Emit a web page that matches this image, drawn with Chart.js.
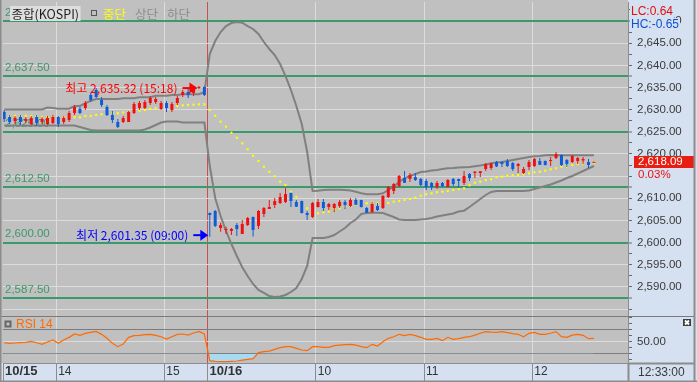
<!DOCTYPE html>
<html>
<head>
<meta charset="utf-8">
<script src="https://cdn.jsdelivr.net/npm/chart.js@4.4.1/dist/chart.umd.min.js"></script>
<style>
  html, body { margin: 0; padding: 0; background: #d5e1f0; }
  #box { width: 697px; height: 382px; }
</style>
</head>
<body>
<div id="box"><canvas id="hts" width="697" height="382"></canvas></div>
<script>
// 3분봉: 10/15 13:30~15:21 (38개), 10/16 09:00~12:33 (72개)
const open = [
  2629.47, 2628.34, 2627.44, 2628.34, 2627.44, 2626.76, 2628.34, 2627.22, 2626.76, 2626.99,
  2628.34, 2627.22, 2627.67, 2629.25, 2630.15, 2630.37, 2633.31, 2634.44, 2632.18, 2630.60,
  2628.80, 2627.22, 2627.22, 2627.22, 2629.25, 2630.37, 2630.37, 2631.50, 2631.73, 2630.15,
  2631.50, 2629.92, 2631.50, 2633.31, 2633.99, 2633.76, 2634.89, 2635.11,
  2606.69, 2607.14, 2603.30, 2602.85, 2602.63, 2603.98, 2601.95, 2603.98, 2605.79, 2603.76,
  2606.46, 2607.59, 2608.49, 2608.94, 2609.17, 2611.20, 2609.17, 2609.39, 2606.69, 2605.79,
  2608.04, 2609.17, 2608.04, 2607.82, 2608.27, 2609.17, 2608.27, 2609.62, 2609.62, 2607.82,
  2606.91, 2608.27, 2607.82, 2610.30, 2611.65, 2612.78, 2614.58, 2614.36, 2614.81, 2614.36,
  2613.91, 2613.46, 2612.55, 2613.46, 2612.55, 2614.36, 2614.36, 2613.46, 2615.49, 2615.71,
  2615.71, 2616.61, 2616.84, 2618.19, 2618.19, 2618.42, 2617.97, 2617.29, 2615.71, 2617.06,
  2617.29, 2618.42, 2618.42, 2618.42, 2619.10, 2619.77, 2618.64, 2618.19, 2618.42, 2618.55,
  2618.19, 2618.00
];
const high = [
  2629.92, 2628.80, 2628.57, 2628.80, 2628.34, 2628.57, 2628.80, 2628.34, 2628.57, 2628.80,
  2628.57, 2628.57, 2629.70, 2631.05, 2630.60, 2631.95, 2633.76, 2634.89, 2632.86, 2631.05,
  2629.70, 2627.89, 2628.57, 2629.70, 2631.73, 2631.95, 2632.18, 2633.08, 2632.86, 2631.95,
  2631.95, 2631.73, 2633.08, 2634.44, 2634.66, 2635.11, 2635.32, 2635.20,
  2606.80, 2607.36, 2604.50, 2603.60, 2603.30, 2604.43, 2605.11, 2605.79, 2605.90, 2607.36,
  2608.04, 2609.62, 2610.07, 2611.20, 2612.33, 2611.30, 2609.62, 2609.50, 2607.14, 2609.17,
  2609.85, 2609.85, 2608.94, 2608.94, 2609.62, 2609.62, 2610.07, 2610.07, 2609.70, 2608.04,
  2609.17, 2608.94, 2610.75, 2612.78, 2613.46, 2615.26, 2616.16, 2615.71, 2615.71, 2614.58,
  2614.36, 2613.68, 2613.91, 2613.68, 2614.36, 2614.58, 2614.40, 2616.16, 2615.71, 2616.16,
  2616.16, 2617.97, 2617.97, 2618.42, 2618.42, 2618.87, 2618.19, 2617.97, 2617.06, 2618.64,
  2619.10, 2619.10, 2618.55, 2619.32, 2620.45, 2619.90, 2618.87, 2619.77, 2619.32, 2619.32,
  2618.87, 2618.09
];
const low = [
  2627.22, 2626.76, 2626.76, 2626.54, 2626.99, 2626.54, 2626.31, 2626.76, 2626.54, 2626.76,
  2626.09, 2626.76, 2627.22, 2628.80, 2629.02, 2629.92, 2631.73, 2632.63, 2630.60, 2628.57,
  2626.99, 2625.86, 2626.99, 2627.22, 2629.02, 2629.92, 2630.15, 2631.05, 2631.28, 2629.92,
  2629.47, 2629.47, 2631.05, 2632.86, 2632.63, 2633.08, 2634.66, 2633.08,
  2601.35, 2603.53, 2602.47, 2601.95, 2601.73, 2601.50, 2601.95, 2603.76, 2601.40, 2603.08,
  2605.79, 2607.59, 2607.82, 2608.72, 2608.94, 2608.04, 2608.04, 2606.60, 2605.11, 2605.56,
  2607.90, 2607.14, 2607.36, 2606.91, 2607.82, 2607.59, 2608.04, 2608.49, 2607.90, 2606.69,
  2606.69, 2607.14, 2607.59, 2610.07, 2610.97, 2612.55, 2613.46, 2613.68, 2613.91, 2612.78,
  2611.88, 2611.88, 2612.10, 2612.55, 2612.50, 2612.78, 2612.33, 2613.00, 2613.91, 2614.58,
  2614.81, 2616.16, 2616.39, 2617.06, 2617.06, 2617.06, 2616.16, 2615.71, 2615.49, 2616.39,
  2617.06, 2617.52, 2617.40, 2617.29, 2618.87, 2617.29, 2617.06, 2617.97, 2617.74, 2617.74,
  2616.84, 2618.00
];
const close = [
  2627.89, 2627.22, 2628.12, 2627.22, 2627.89, 2628.12, 2626.99, 2627.89, 2628.12, 2628.34,
  2626.76, 2628.12, 2629.25, 2630.60, 2629.25, 2631.50, 2632.18, 2632.86, 2631.05, 2628.80,
  2627.67, 2626.09, 2628.12, 2629.47, 2631.28, 2631.50, 2631.73, 2632.63, 2632.41, 2631.50,
  2630.37, 2631.28, 2632.63, 2633.99, 2633.31, 2634.89, 2635.11, 2633.31,
  2606.24, 2603.76, 2603.98, 2603.08, 2603.08, 2603.08, 2604.21, 2605.56, 2602.85, 2607.14,
  2607.82, 2608.04, 2609.39, 2610.30, 2610.97, 2609.39, 2608.10, 2606.69, 2606.24, 2608.94,
  2609.17, 2607.82, 2608.72, 2608.72, 2609.17, 2608.49, 2609.62, 2608.55, 2608.04, 2606.75,
  2608.72, 2607.36, 2610.52, 2612.55, 2613.23, 2615.04, 2613.50, 2615.26, 2614.13, 2613.00,
  2612.55, 2612.55, 2613.46, 2612.78, 2614.13, 2613.23, 2613.91, 2615.04, 2614.58, 2616.00,
  2616.10, 2617.74, 2617.90, 2617.20, 2617.74, 2617.29, 2616.61, 2617.74, 2616.61, 2618.19,
  2618.87, 2617.55, 2617.52, 2618.64, 2620.00, 2617.52, 2617.74, 2619.55, 2619.10, 2618.87,
  2617.52, 2618.09
];

// 볼린저 밴드 (상단 / 중단 / 하단)
const bbUpper = [
  2630.04, 2630.04, 2630.04, 2630.04, 2630.04, 2630.04, 2630.04, 2630.04, 2630.49, 2630.38,
  2630.22, 2630.22, 2630.22, 2630.83, 2630.83, 2631.44, 2632.02, 2632.41, 2632.41, 2632.41,
  2632.41, 2632.41, 2632.56, 2632.56, 2632.56, 2632.79, 2632.79, 2632.79, 2633.15, 2633.15,
  2633.15, 2633.31, 2633.31, 2633.47, 2633.47, 2633.47, 2633.47, 2633.98,
  2642.56, 2645.49, 2647.52, 2648.87, 2649.55, 2649.78, 2649.62, 2648.87, 2648.20, 2647.07,
  2645.26, 2643.69, 2642.33, 2640.30, 2637.59, 2634.44, 2630.83, 2626.77, 2620.45, 2611.65,
  2611.72, 2611.88, 2611.94, 2611.94, 2611.94, 2611.88, 2611.76, 2611.49, 2611.13, 2610.91,
  2610.91, 2610.91, 2611.13, 2611.88, 2612.62, 2613.75, 2614.52, 2615.04, 2615.49, 2615.94,
  2616.05, 2616.28, 2616.39, 2616.61, 2616.77, 2616.84, 2616.95, 2617.00, 2617.06, 2617.22,
  2617.40, 2617.63, 2617.90, 2618.08, 2618.19, 2618.42, 2618.64, 2618.87, 2619.10, 2619.32,
  2619.48, 2619.55, 2619.71, 2619.77, 2619.71, 2619.71, 2619.71, 2619.71, 2619.71, 2619.71,
  2619.71, 2619.71
];
const bbMid = [
  2628.57, 2628.57, 2628.57, 2628.57, 2628.57, 2628.57, 2628.57, 2628.34, 2628.34, 2628.34,
  2628.34, 2628.34, 2628.57, 2628.28, 2628.28, 2628.57, 2628.57, 2628.80, 2628.95, 2629.18,
  2629.18, 2629.18, 2629.41, 2629.41, 2629.70, 2629.77, 2629.92, 2630.15, 2630.31, 2630.44,
  2630.67, 2630.76, 2630.83, 2630.98, 2631.05, 2631.12, 2631.21, 2631.21,
  2629.92, 2628.64, 2627.28, 2626.16, 2624.80, 2623.67, 2622.41, 2621.06, 2619.61, 2618.42,
  2617.13, 2616.00, 2614.97, 2613.75, 2613.00, 2611.49, 2610.36, 2609.24, 2607.75, 2606.80,
  2606.62, 2606.85, 2606.98, 2607.52, 2607.75, 2608.11, 2608.27, 2608.65, 2608.88, 2608.88,
  2609.01, 2608.88, 2609.01, 2608.94, 2609.24, 2609.39, 2609.62, 2609.85, 2610.14, 2610.59,
  2610.91, 2611.13, 2611.36, 2611.49, 2611.65, 2611.88, 2612.10, 2612.26, 2612.93, 2613.52,
  2613.75, 2614.13, 2614.29, 2614.74, 2614.88, 2615.10, 2615.19, 2615.26, 2615.42, 2615.64,
  2615.87, 2616.00, 2616.23, 2616.55, 2616.77, 2617.13, 2617.22, 2617.52, 2617.74, 2617.90,
  2617.90, 2618.04
];
const bbLower = [
  2626.43, 2626.43, 2626.43, 2626.43, 2626.43, 2626.43, 2626.43, 2626.43, 2626.43, 2626.43,
  2626.43, 2626.43, 2626.43, 2626.43, 2626.09, 2625.75, 2625.41, 2625.30, 2625.30, 2625.30,
  2625.30, 2625.30, 2625.30, 2625.30, 2625.30, 2625.30, 2625.52, 2625.98, 2626.54, 2627.10,
  2627.33, 2627.33, 2627.33, 2627.10, 2627.10, 2627.10, 2627.10, 2627.10,
  2617.29, 2610.07, 2606.01, 2602.63, 2599.69, 2596.99, 2594.46, 2592.47, 2590.67, 2589.32,
  2588.64, 2587.96, 2587.74, 2587.85, 2588.19, 2588.86, 2589.77, 2591.80, 2594.73, 2601.05,
  2601.05, 2601.05, 2601.27, 2601.72, 2602.52, 2603.30, 2604.43, 2605.22, 2606.46, 2606.69,
  2606.76, 2606.76, 2606.69, 2606.24, 2605.79, 2605.22, 2605.11, 2605.11, 2605.11, 2605.22,
  2605.33, 2605.56, 2605.90, 2606.12, 2606.35, 2606.58, 2607.03, 2607.21, 2608.04, 2608.94,
  2609.85, 2610.75, 2611.43, 2611.65, 2611.65, 2611.65, 2611.65, 2611.65, 2611.65, 2611.76,
  2612.10, 2612.44, 2612.78, 2613.12, 2613.57, 2614.02, 2614.58, 2615.04, 2615.60, 2616.16,
  2616.73, 2617.29
];

// RSI 14
const rsi = [
  48.3, 47.2, 47.8, 48.3, 48.9, 50.6, 48.3, 45.6, 49.4, 52.8,
  47.2, 52.8, 57.2, 62.8, 60.6, 63.9, 65.6, 67.2, 62.2, 55.6,
  47.2, 41.7, 46.1, 57.2, 60.0, 60.6, 61.7, 62.2, 60.6, 58.3,
  54.4, 58.3, 62.2, 62.8, 61.1, 64.4, 67.2, 62.8,
  18.3, 17.2, 16.7, 16.7, 17.2, 17.8, 19.4, 20.6, 21.7, 31.7,
  33.3, 34.4, 37.2, 40.0, 41.7, 41.7, 38.9, 36.1, 35.0, 41.7,
  41.7, 40.6, 40.6, 43.3, 44.4, 45.0, 45.6, 44.4, 41.7, 40.0,
  45.6, 42.8, 50.0, 55.6, 58.3, 62.3, 60.0, 62.3, 60.0, 57.3,
  54.0, 54.0, 55.6, 51.7, 57.3, 54.0, 55.0, 57.3, 58.3, 61.0,
  64.0, 66.7, 66.0, 65.6, 66.7, 65.0, 63.4, 62.3, 58.3, 64.0,
  65.6, 62.3, 62.3, 64.0, 66.7, 58.3, 57.3, 61.0, 62.3, 60.6,
  55.0, 55.6
];

// 시간축 눈금 (3분 슬롯 기준)
const timeTickSlots = [0.18, 10, 30, 38, 58, 78, 98];
const timeTickLabels = ['10/15', '14', '15', '10/16', '10', '11', '12'];
const boldTickLabels = ['10/15', '10/16'];
const greenLevels = [2587.5, 2600, 2612.5, 2625, 2637.5, 2650];
const rsiTicks = [20, 30, 40, 50, 60, 70, 80, 90];
const rsiGuides = [30, 70];
const lastTime = '12:33:00';
const changeRate = '0.03%';
const lcText = 'LC:0.64';
const hcText = 'HC:-0.65';

const BAR_OFFSET = 0.4;
const C = {
  plotBg: '#c0c0c0', panelBg: '#d5e1f0', grid: '#dcdcdc', green: '#3b9a6b',
  up: '#f01010', down: '#0f5bd8', band: '#808080', mid: '#ffff00',
  rsi: '#ff6a00', rsiFill: '#a8daf2', text: '#3a3a3a', frame: '#8c8c8c', dayLine: '#c85050'
};
const NUM_FONT = '"Liberation Sans", Arial, sans-serif';
const KR_FONT = '"Noto Sans CJK KR", "Noto Sans", sans-serif';

const fmt = v => v.toLocaleString('en-US', { minimumFractionDigits: 2, maximumFractionDigits: 2 });
const near = (v, list) => list.some(g => Math.abs(g - v) < 1e-6);
const isFive = v => Math.abs(v / 5 - Math.round(v / 5)) < 1e-6;

const xs = open.map((_, i) => i + BAR_OFFSET);
const colors = open.map((o, i) => close[i] >= o ? C.up : C.down);
const pts = arr => arr.map((v, i) => ({ x: xs[i], y: v }));

function text(ctx, s, x, y, color, font, align) {
  ctx.font = font;
  ctx.fillStyle = color;
  ctx.textAlign = align || 'left';
  ctx.textBaseline = 'middle';
  ctx.fillText(s, x, y);
}

function arrow(ctx, tip, y, color) {
  ctx.strokeStyle = color;
  ctx.fillStyle = color;
  ctx.lineWidth = 2;
  ctx.beginPath();
  ctx.moveTo(tip - 15, y);
  ctx.lineTo(tip - 6, y);
  ctx.stroke();
  ctx.beginPath();
  ctx.moveTo(tip - 8, y - 5.5);
  ctx.lineTo(tip, y);
  ctx.lineTo(tip - 8, y + 5.5);
  ctx.closePath();
  ctx.fill();
}

const htsFrame = {
  id: 'htsFrame',
  beforeDraw(chart) {
    const { ctx, chartArea: a, width, height } = chart;
    ctx.save();
    ctx.fillStyle = C.panelBg;
    ctx.fillRect(0, 0, width, height);
    ctx.fillStyle = C.plotBg;
    ctx.fillRect(0, 0, a.right, a.bottom);
    ctx.restore();
  },
  beforeDatasetsDraw(chart) {
    const { ctx, chartArea: a } = chart;
    const ys = chart.scales.y;
    ctx.save();
    // 패널 구분선
    ctx.strokeStyle = '#7a7a7a';
    ctx.lineWidth = 1;
    ctx.beginPath();
    ctx.moveTo(0, Math.round(ys.bottom) + 0.5);
    ctx.lineTo(694, Math.round(ys.bottom) + 0.5);
    ctx.stroke();
    // 왼쪽 녹색 기준선 값
    greenLevels.forEach(v => {
      text(ctx, fmt(v), a.left + 2, ys.getPixelForValue(v) - 8.5, C.green, '11.5px ' + NUM_FONT);
    });
    ctx.restore();
  },
  afterDraw(chart) {
    const { ctx } = chart;
    const xsc = chart.scales.x, ys = chart.scales.y, yr = chart.scales.yr;
    ctx.save();

    // 범례
    ctx.font = '12.5px ' + KR_FONT;
    const lw = ctx.measureText('종합(KOSPI)').width;
    ctx.fillStyle = '#dedede';
    ctx.fillRect(10, 6, lw + 3, 15);
    text(ctx, '종합(KOSPI)', 11.5, 14, '#1e1e1e', '12.5px ' + KR_FONT);
    ctx.strokeStyle = '#555';
    ctx.lineWidth = 1;
    ctx.strokeRect(91.5, 10.5, 5, 5);
    text(ctx, '중단', 103, 14, C.mid, '12.5px ' + KR_FONT);
    text(ctx, '상단', 135, 14, '#8c8c8c', '12.5px ' + KR_FONT);
    text(ctx, '하단', 167, 14, '#8c8c8c', '12.5px ' + KR_FONT);

    // 최고 / 최저 표시
    const hi = high.indexOf(Math.max(...high));
    const lo = low.indexOf(Math.min(...low));
    const hx = xsc.getPixelForValue(xs[hi]) - 1.5, hy = ys.getPixelForValue(high[hi]) + 2;
    arrow(ctx, hx, hy, '#ff0000');
    text(ctx, '최고 ' + fmt(high[hi]) + ' (15:18)', hx - 20, hy, '#ff0000', '12px ' + KR_FONT, 'right');
    const lx = xsc.getPixelForValue(xs[lo]) - 1.5, ly = ys.getPixelForValue(low[lo]) - 1.5;
    arrow(ctx, lx, ly, '#0000ff');
    text(ctx, '최저 ' + fmt(low[lo]) + ' (09:00)', lx - 20, ly, '#0000ff', '12px ' + KR_FONT, 'right');

    // 현재가 박스
    const last = close[close.length - 1];
    const cy = ys.getPixelForValue(last);
    ctx.fillStyle = '#e81e12';
    ctx.fillRect(634, Math.round(cy) - 6, 60, 12);
    text(ctx, fmt(last), 638, Math.round(cy), '#ffffff', '11.5px ' + NUM_FONT);
    ctx.fillStyle = C.panelBg;
    ctx.fillRect(635, Math.round(cy) + 6, 56, 13);
    text(ctx, changeRate, 638, Math.round(cy) + 12.5, '#f01010', '11.5px ' + NUM_FONT);

    // LC / HC
    ctx.font = '12px ' + NUM_FONT;
    ctx.fillStyle = C.panelBg;
    ctx.fillRect(630, 5, ctx.measureText(lcText).width + 2, 13);
    ctx.fillRect(630, 18, ctx.measureText(hcText).width + 2, 13);
    text(ctx, lcText, 631, 12, '#e01010', '12px ' + NUM_FONT);
    text(ctx, hcText, 631, 24.5, '#1050d0', '12px ' + NUM_FONT);

    // RSI 범례
    ctx.strokeStyle = '#666';
    ctx.strokeRect(5.5, 321.5, 5, 5);
    text(ctx, 'RSI 14', 16, 324.5, C.rsi, '12px ' + NUM_FONT);
    ctx.fillStyle = '#3c3c3c';
    ctx.fillRect(683, 319, 8, 7);
    ctx.strokeStyle = '#ffffff';
    ctx.beginPath();
    ctx.moveTo(685, 320.5); ctx.lineTo(689, 324.5);
    ctx.moveTo(689, 320.5); ctx.lineTo(685, 324.5);
    ctx.stroke();

    // 시간 박스, 테두리
    ctx.strokeStyle = C.frame;
    ctx.beginPath();
    ctx.moveTo(628.5, xsc.top); ctx.lineTo(628.5, 382);
    ctx.moveTo(694.5, 0); ctx.lineTo(694.5, 382);
    ctx.moveTo(0, 381.5); ctx.lineTo(697, 381.5);
    ctx.moveTo(628, xsc.top + 0.5); ctx.lineTo(694, xsc.top + 0.5);
    ctx.moveTo(0.5, 0); ctx.lineTo(0.5, 382);
    ctx.stroke();
    text(ctx, lastTime, 638, 372.5, C.text, '12px ' + NUM_FONT);
    ctx.restore();
  }
};

const ctx = document.getElementById('hts').getContext('2d');
const chart = new Chart(ctx, {
  type: 'line',
  data: {
    datasets: [
      {
        type: 'bar', label: 'wick', yAxisID: 'y', order: 1,
        data: open.map((_, i) => ({ x: xs[i], y: [low[i], high[i]] })),
        backgroundColor: colors, grouped: false, maxBarThickness: 1,
        minBarLength: 1, borderWidth: 0, inflateAmount: 0
      },
      {
        type: 'bar', label: 'body', yAxisID: 'y', order: 0,
        data: open.map((o, i) => ({ x: xs[i], y: [o, close[i]] })),
        backgroundColor: colors, grouped: false, maxBarThickness: 3,
        minBarLength: 1, borderWidth: 0, inflateAmount: 0
      },
      {
        label: '상단', yAxisID: 'y', order: 3, data: pts(bbUpper),
        borderColor: C.band, borderWidth: 2, pointRadius: 0, tension: 0
      },
      {
        label: '하단', yAxisID: 'y', order: 3, data: pts(bbLower),
        borderColor: C.band, borderWidth: 2, pointRadius: 0, tension: 0
      },
      {
        label: '중단', yAxisID: 'y', order: 2, data: pts(bbMid), showLine: false,
        pointStyle: 'rect', pointRadius: 1.5, backgroundColor: C.mid, borderWidth: 0
      },
      {
        label: 'RSI 14', yAxisID: 'yr', order: 4, data: pts(rsi),
        borderColor: C.rsi, borderWidth: 1.2, pointRadius: 0, tension: 0,
        fill: { target: { value: 30 }, above: 'rgba(0,0,0,0)', below: C.rsiFill }
      }
    ]
  },
  options: {
    responsive: false,
    animation: false,
    events: [],
    layout: { autoPadding: false, padding: { left: 3, top: 2, right: 0, bottom: 0 } },
    plugins: { legend: { display: false }, tooltip: { enabled: false } },
    scales: {
      x: {
        type: 'linear', position: 'bottom', min: 0.18, max: 115.7, offset: false,
        afterBuildTicks: s => { s.ticks = timeTickSlots.map(v => ({ value: v })); },
        afterFit: s => { s.height = 19; s.paddingLeft = 0; s.paddingRight = 0; },
        border: { display: true, color: C.frame },
        grid: {
          offset: false,
          color: c => c.index === 0 ? 'rgba(0,0,0,0)' : (c.index === 3 ? C.dayLine : C.grid),
          tickColor: C.frame, tickLength: 19, tickWidth: 1
        },
        ticks: {
          autoSkip: false, maxRotation: 0, align: 'start', labelOffset: 2, padding: -18,
          color: '#333',
          callback: (v, i) => timeTickLabels[i],
          font: c => boldTickLabels.includes(timeTickLabels[c.index])
            ? { family: NUM_FONT, size: 13, weight: 'bold' }
            : { family: NUM_FONT, size: 12 }
        }
      },
      y: {
        type: 'linear', position: 'right', stack: 'panes', stackWeight: 314,
        min: 2583.45, max: 2654.29,
        afterBuildTicks: s => {
          const t = [];
          for (let v = 2585; v <= 2652.5; v += 2.5) t.push({ value: v });
          s.ticks = t;
        },
        afterFit: s => { s.width = 69; s.paddingTop = 0; s.paddingBottom = 0; },
        border: { display: true, color: C.frame },
        grid: {
          color: c => near(c.tick.value, greenLevels) ? C.green : (isFive(c.tick.value) ? C.grid : 'rgba(0,0,0,0)'),
          lineWidth: c => near(c.tick.value, greenLevels) ? 2 : 1,
          tickColor: '#6a6a6a', tickWidth: 1, tickLength: 4
        },
        ticks: {
          autoSkip: false, padding: 5, color: C.text,
          font: { family: NUM_FONT, size: 11.5 },
          callback: v => (isFive(v) && v >= 2590) ? fmt(v) : ''
        }
      },
      yr: {
        type: 'linear', position: 'right', stack: 'panes', stackWeight: 47,
        min: 14.5, max: 92.8,
        afterBuildTicks: s => { s.ticks = rsiTicks.map(v => ({ value: v })); },
        afterFit: s => { s.width = 69; s.paddingTop = 0; s.paddingBottom = 0; },
        border: { display: true, color: C.frame },
        grid: {
          color: c => c.tick.value === 50 ? C.grid : (rsiGuides.includes(c.tick.value) ? '#7c7c7c' : 'rgba(0,0,0,0)'),
          tickColor: '#6a6a6a', tickWidth: 1, tickLength: 4
        },
        ticks: {
          autoSkip: false, padding: 5, color: C.text,
          font: { family: NUM_FONT, size: 11.5 },
          callback: v => v === 50 ? fmt(v) : ''
        }
      }
    }
  },
  plugins: [htsFrame]
});
</script>
</body>
</html>
